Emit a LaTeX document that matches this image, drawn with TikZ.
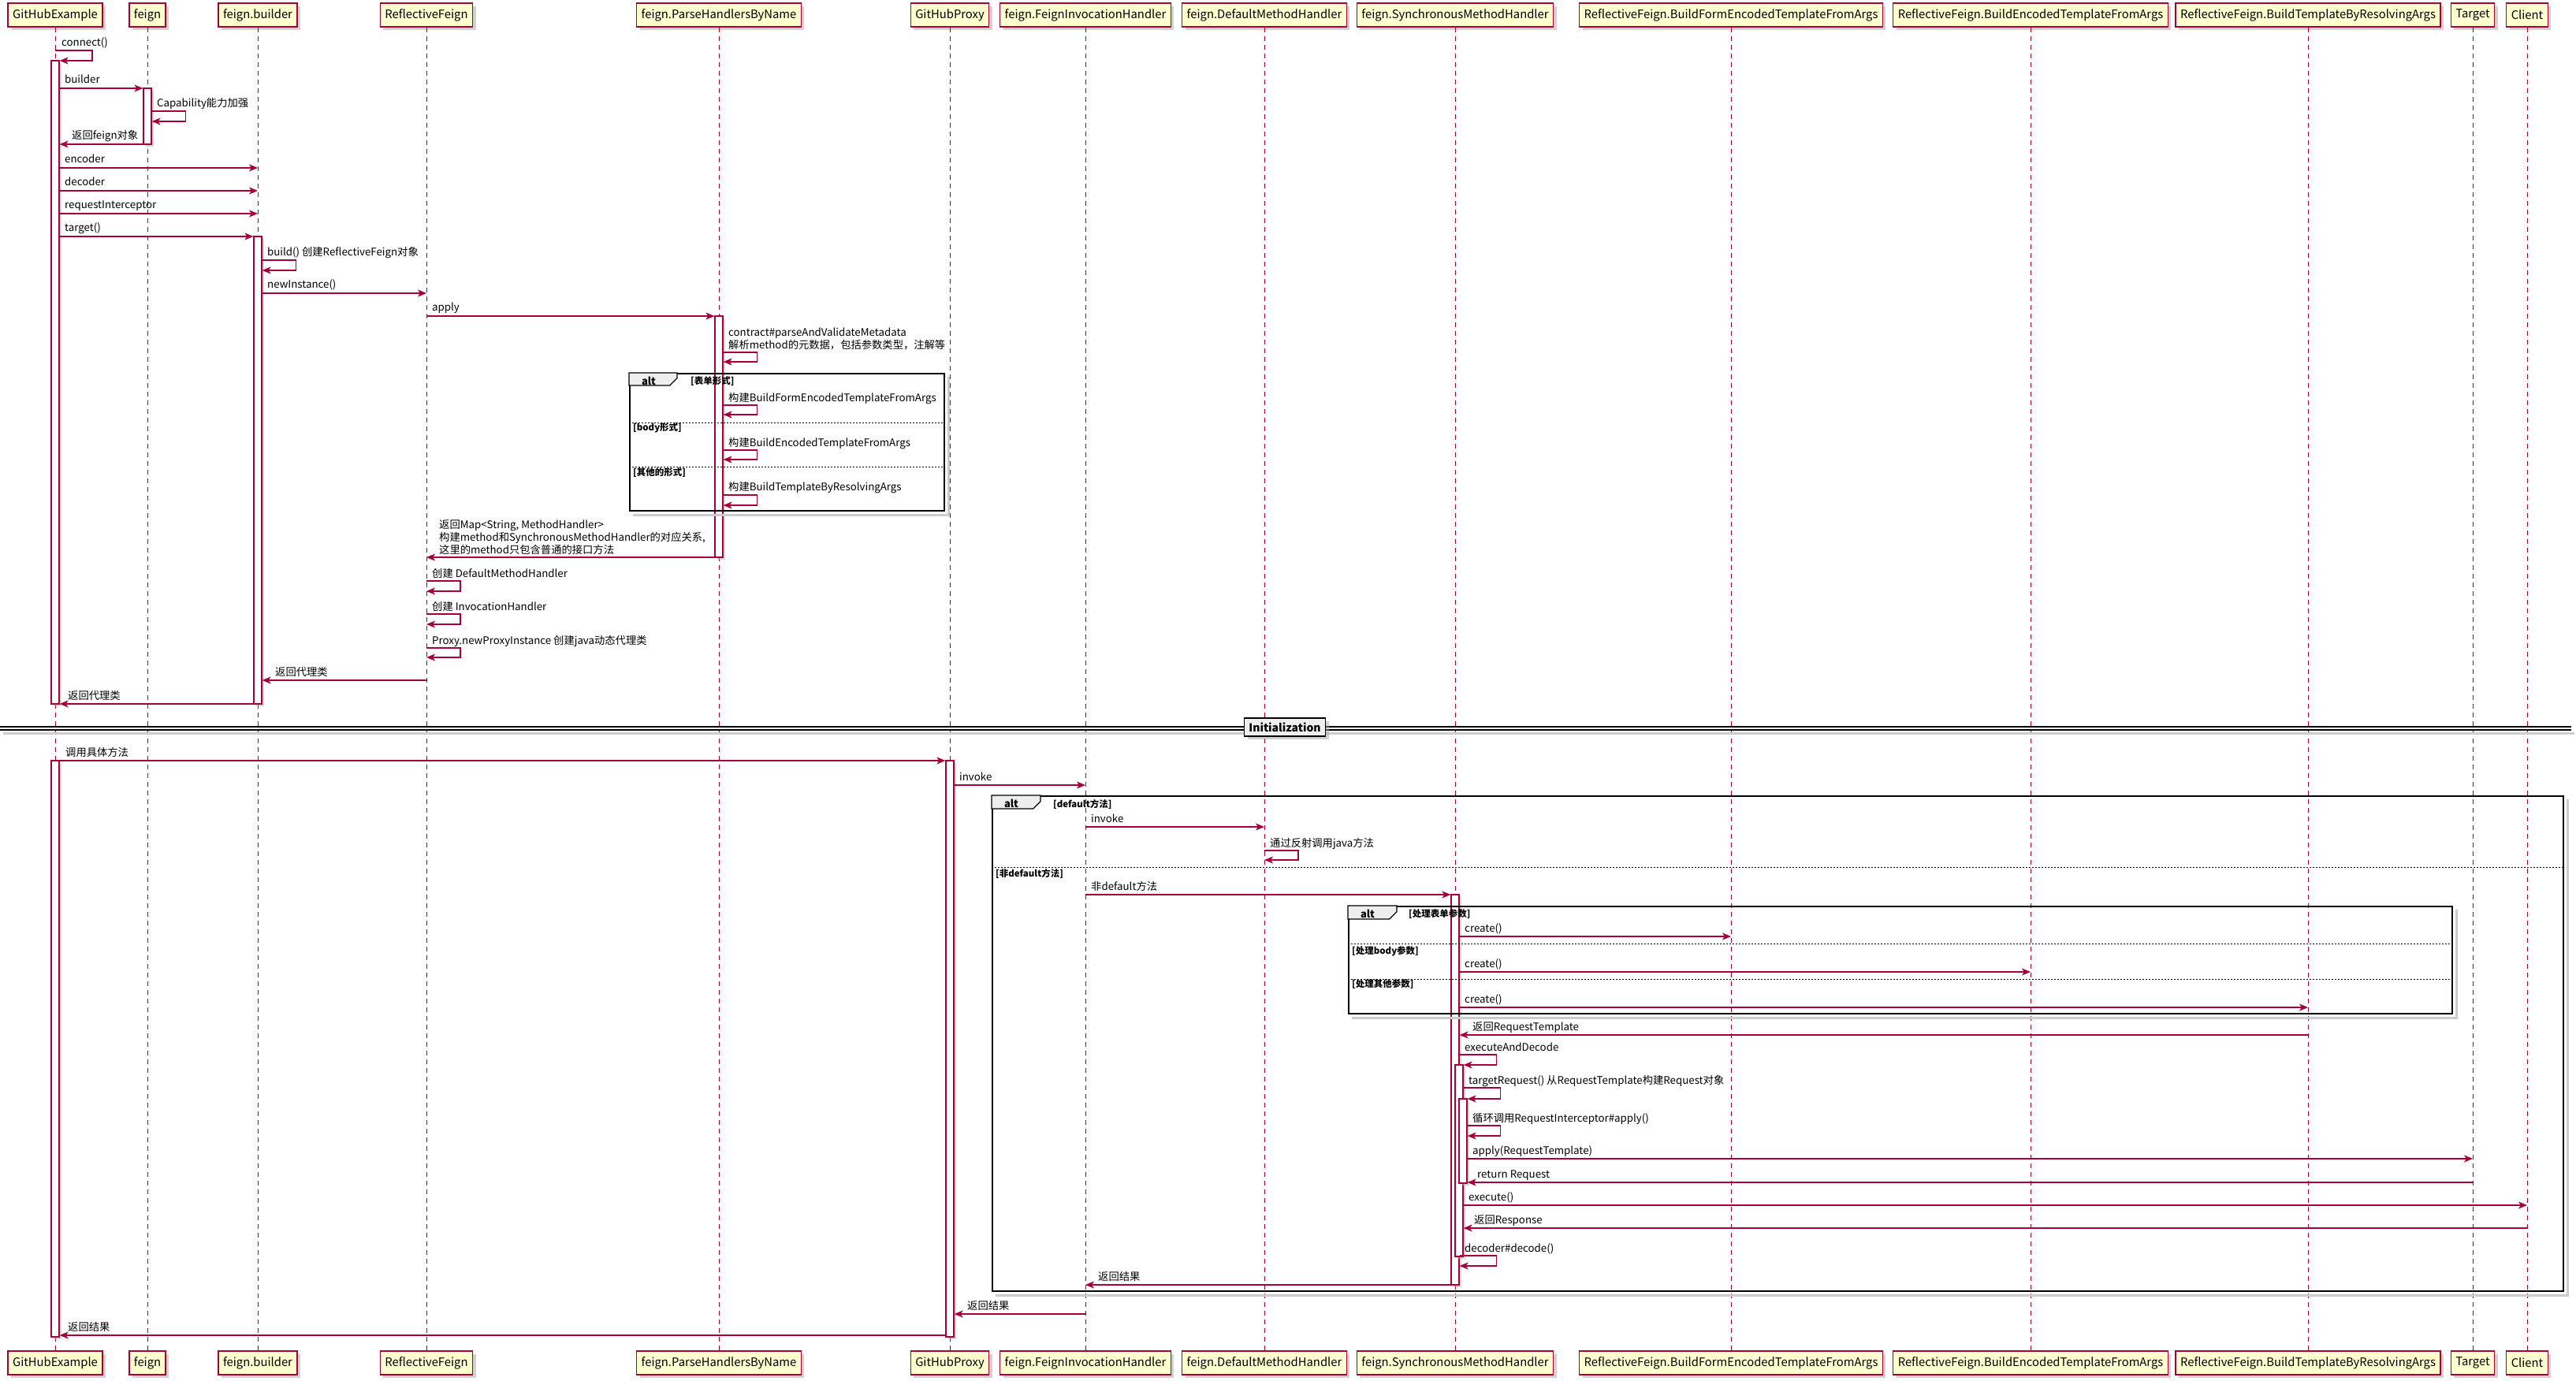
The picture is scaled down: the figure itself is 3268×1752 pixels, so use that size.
\documentclass[tikz,border=0pt]{standalone}
\usepackage{fontspec}
\setmainfont{Noto Sans CJK SC}
\usetikzlibrary{arrows.meta, shadows, positioning}
\definecolor{umlred}{HTML}{A80036}
\definecolor{umlfill}{HTML}{FEFECE}
\definecolor{umlgray}{HTML}{EEEEEE}

\begin{document}
\begin{tikzpicture}[
    x=1pt, y=-1pt,
    part/.style={rectangle, draw=umlred, fill=umlfill, line width=1.4pt, minimum height=30pt, inner xsep=6pt, font=\fontsize{14.8}{18}\selectfont, drop shadow={shadow xshift=4pt, shadow yshift=-4pt, fill=black!35, opacity=.5}},
    life/.style={draw=umlred, line width=1pt, dash pattern=on 6pt off 5pt},
    actbar/.style={rectangle, draw=umlred, fill=white, line width=1.2pt, minimum width=10pt, inner sep=0pt, drop shadow={shadow xshift=3pt, shadow yshift=-3pt, fill=black!30, opacity=.5}},
    msg/.style={-{Stealth[length=11pt, width=9pt, inset=3pt]}, draw=umlred, line width=1.4pt},
    lbl/.style={inner sep=0pt, font=\fontsize{13.3}{16}\selectfont, align=left},
    frame/.style={rectangle, draw=black, line width=2.2pt, inner sep=0pt},
    fshadow/.style={draw=black!20, line width=3pt},
    tab/.style={draw=black, fill=umlgray, line width=1.2pt},
    altlbl/.style={inner sep=0pt, font=\bfseries\fontsize{13}{15}\selectfont},
    guard/.style={inner sep=0pt, font=\bfseries\fontsize{11.5}{13}\selectfont},
    sep/.style={draw=black, line width=1pt, dash pattern=on 2pt off 2pt},
    divbox/.style={rectangle, draw=black, fill=umlgray, line width=1.5pt, minimum width=103pt, minimum height=23pt, font=\bfseries\fontsize{14}{16}\selectfont, drop shadow={shadow xshift=4pt, shadow yshift=-4pt, fill=black!35, opacity=.5}}
]
    \useasboundingbox (0,0) rectangle (3268,1752);

    \node[part] (gh) at (70,19) {GitHubExample};
    \node[part] (fg) at (187,19) {feign};
    \node[part] (fb) at (327,19) {feign.builder};
    \node[part] (rf) at (541,19) {ReflectiveFeign};
    \node[part] (ph) at (912,19) {feign.ParseHandlersByName};
    \node[part] (px) at (1205,19) {GitHubProxy};
    \node[part] (fih) at (1377,19) {feign.FeignInvocationHandler};
    \node[part] (dmh) at (1604,19) {feign.DefaultMethodHandler};
    \node[part] (smh) at (1846,19) {feign.SynchronousMethodHandler};
    \node[part] (bf) at (2196,19) {ReflectiveFeign.BuildFormEncodedTemplateFromArgs};
    \node[part] (be) at (2576,19) {ReflectiveFeign.BuildEncodedTemplateFromArgs};
    \node[part] (bt) at (2928,19) {ReflectiveFeign.BuildTemplateByResolvingArgs};
    \node[part] (tg) at (3137,19) {Target};
    \node[part] (cl) at (3206,19) {Client};

    \node[part] (gh2) at (70,1729) {GitHubExample};
    \node[part] (fg2) at (187,1729) {feign};
    \node[part] (fb2) at (327,1729) {feign.builder};
    \node[part] (rf2) at (541,1729) {ReflectiveFeign};
    \node[part] (ph2) at (912,1729) {feign.ParseHandlersByName};
    \node[part] (px2) at (1205,1729) {GitHubProxy};
    \node[part] (fih2) at (1377,1729) {feign.FeignInvocationHandler};
    \node[part] (dmh2) at (1604,1729) {feign.DefaultMethodHandler};
    \node[part] (smh2) at (1846,1729) {feign.SynchronousMethodHandler};
    \node[part] (bf2) at (2196,1729) {ReflectiveFeign.BuildFormEncodedTemplateFromArgs};
    \node[part] (be2) at (2576,1729) {ReflectiveFeign.BuildEncodedTemplateFromArgs};
    \node[part] (bt2) at (2928,1729) {ReflectiveFeign.BuildTemplateByResolvingArgs};
    \node[part] (tg2) at (3137,1729) {Target};
    \node[part] (cl2) at (3206,1729) {Client};

    \draw[life] (gh) -- (gh2);
    \draw[life] (fg) -- (fg2);
    \draw[life] (fb) -- (fb2);
    \draw[life] (rf) -- (rf2);
    \draw[life] (ph) -- (ph2);
    \draw[life] (px) -- (px2);
    \draw[life] (fih) -- (fih2);
    \draw[life] (dmh) -- (dmh2);
    \draw[life] (smh) -- (smh2);
    \draw[life] (bf) -- (bf2);
    \draw[life] (be) -- (be2);
    \draw[life] (bt) -- (bt2);
    \draw[life] (tg) -- (tg2);
    \draw[life] (cl) -- (cl2);

    \node[actbar, minimum height=816pt] (ghact1) at (70,485) {};
    \node[actbar, minimum height=71pt] (fgact) at (187,147.5) {};
    \node[actbar, minimum height=593pt] (fbact) at (327,596.5) {};
    \node[actbar, minimum height=306pt] (phact) at (912,554) {};
    \node[actbar, minimum height=731pt] (ghact2) at (70,1330.5) {};
    \node[actbar, minimum height=731pt] (pxact) at (1205,1330.5) {};
    \node[actbar, minimum height=495pt] (smhact1) at (1846,1382.5) {};
    \node[actbar, minimum height=243pt] (smhact2) at (1851,1472.5) {};
    \node[actbar, minimum height=107pt] (smhact3) at (1856,1447.5) {};

    \node[frame, minimum width=399pt, minimum height=174pt] (alt1) at (998.5,561) {};
    \draw[fshadow] ([shift={(4,5)}]alt1.north east) -- ([shift={(4,4)}]alt1.south east) -- ([shift={(5,4)}]alt1.south west);
    \draw[tab] (alt1.north west) -- ++(61,0) -- ++(0,7) -- ++(-9,9) -- ++(-52,0) -- cycle;
    \node[altlbl] (alt1t) at (823,483) {alt};
    \node[guard, anchor=base west] (g1) at (876,487) {[表单形式]};
    \draw[sep] (alt1.west |- 0,536) -- (alt1.east |- 0,536);
    \node[guard, anchor=base west] (g2) at (803,546) {[body形式]};
    \draw[sep] (alt1.west |- 0,592) -- (alt1.east |- 0,592);
    \node[guard, anchor=base west] (g3) at (803,603) {[其他的形式]};

    \node[frame, minimum width=1993pt, minimum height=628pt] (alt2) at (2255.5,1324) {};
    \draw[fshadow] ([shift={(4,5)}]alt2.north east) -- ([shift={(4,4)}]alt2.south east) -- ([shift={(5,4)}]alt2.south west);
    \draw[tab] (alt2.north west) -- ++(62,0) -- ++(0,8) -- ++(-9,9) -- ++(-53,0) -- cycle;
    \node[altlbl] (alt2t) at (1283,1019) {alt};
    \node[guard, anchor=base west] (g4) at (1336,1024) {[default方法]};
    \draw[sep] (alt2.west |- 0,1100) -- (alt2.east |- 0,1100);
    \node[guard, anchor=base west] (g5) at (1263,1112) {[非default方法]};

    \node[frame, minimum width=1400pt, minimum height=136pt] (alt3) at (2411,1218) {};
    \draw[fshadow] ([shift={(4,5)}]alt3.north east) -- ([shift={(4,4)}]alt3.south east) -- ([shift={(5,4)}]alt3.south west);
    \draw[tab] (alt3.north west) -- ++(62,0) -- ++(0,8) -- ++(-9,9) -- ++(-53,0) -- cycle;
    \node[altlbl] (alt3t) at (1735,1159) {alt};
    \node[guard, anchor=base west] (g6) at (1787,1163) {[处理表单参数]};
    \draw[sep] (alt3.west |- 0,1197) -- (alt3.east |- 0,1197);
    \node[guard, anchor=base west] (g7) at (1715,1210) {[处理body参数]};
    \draw[sep] (alt3.west |- 0,1242) -- (alt3.east |- 0,1242);
    \node[guard, anchor=base west] (g8) at (1715,1252) {[处理其他参数]};

    \draw[msg] (gh |- 0,64) -- ++(47,0) |- (ghact1.east |- 0,77);
    \draw[msg] (ghact1.east |- 0,112) -- (fgact.west |- 0,112);
    \draw[msg] (fgact.east |- 0,141) -- ++(43,0) |- (fgact.east |- 0,154);
    \draw[msg] (fgact.west |- 0,183) -- (ghact1.east |- 0,183);
    \draw[msg] (ghact1.east |- 0,213) -- (fb |- 0,213);
    \draw[msg] (ghact1.east |- 0,242) -- (fb |- 0,242);
    \draw[msg] (ghact1.east |- 0,271) -- (fb |- 0,271);
    \draw[msg] (ghact1.east |- 0,300) -- (fbact.west |- 0,300);
    \draw[msg] (fbact.east |- 0,330) -- ++(43,0) |- (fbact.east |- 0,343);
    \draw[msg] (fbact.east |- 0,372) -- (rf |- 0,372);
    \draw[msg] (rf |- 0,401) -- (phact.west |- 0,401);
    \draw[msg] (phact.east |- 0,447) -- ++(43,0) |- (phact.east |- 0,459);
    \draw[msg] (phact.east |- 0,514) -- ++(43,0) |- (phact.east |- 0,526);
    \draw[msg] (phact.east |- 0,571) -- ++(43,0) |- (phact.east |- 0,583);
    \draw[msg] (phact.east |- 0,628) -- ++(43,0) |- (phact.east |- 0,641);
    \draw[msg] (phact.west |- 0,707) -- (rf |- 0,707);
    \draw[msg] (rf |- 0,737) -- ++(43,0) |- (rf |- 0,750);
    \draw[msg] (rf |- 0,779) -- ++(43,0) |- (rf |- 0,792);
    \draw[msg] (rf |- 0,822) -- ++(43,0) |- (rf |- 0,834);
    \draw[msg] (rf |- 0,863) -- (fbact.east |- 0,863);
    \draw[msg] (fbact.west |- 0,893) -- (ghact1.east |- 0,893);

    \node[lbl, anchor=base west] (t1) at (78,59) {connect()};
    \node[lbl, anchor=base west] (t2) at (82,106) {builder};
    \node[lbl, anchor=base west] (t3) at (199,136) {Capability能力加强};
    \node[lbl, anchor=base west] (t4) at (91,177) {返回feign对象};
    \node[lbl, anchor=base west] (t5) at (82,207) {encoder};
    \node[lbl, anchor=base west] (t6) at (82,236) {decoder};
    \node[lbl, anchor=base west] (t7) at (82,265) {requestInterceptor};
    \node[lbl, anchor=base west] (t8) at (82,294) {target()};
    \node[lbl, anchor=base west] (t9) at (339,325) {build() 创建ReflectiveFeign对象};
    \node[lbl, anchor=base west] (t10) at (339,366) {newInstance()};
    \node[lbl, anchor=base west] (t11) at (548,395) {apply};
    \node[lbl, anchor=south west] (t12) at (924,444) {contract\#parseAndValidateMetadata\\解析method的元数据，包括参数类型，注解等};
    \node[lbl, anchor=base west] (t13) at (924,509) {构建BuildFormEncodedTemplateFromArgs};
    \node[lbl, anchor=base west] (t14) at (924,566) {构建BuildEncodedTemplateFromArgs};
    \node[lbl, anchor=base west] (t15) at (924,622) {构建BuildTemplateByResolvingArgs};
    \node[lbl, anchor=south west] (t16) at (557,704) {返回Map<String, MethodHandler>\\构建method和SynchronousMethodHandler的对应关系,\\这里的method只包含普通的接口方法};
    \node[lbl, anchor=base west] (t17) at (548,732) {创建 DefaultMethodHandler};
    \node[lbl, anchor=base west] (t18) at (548,774) {创建 InvocationHandler};
    \node[lbl, anchor=base west] (t19) at (548,817) {Proxy.newProxyInstance 创建java动态代理类};
    \node[lbl, anchor=base west] (t20) at (349,857) {返回代理类};
    \node[lbl, anchor=base west] (t21) at (86,887) {返回代理类};

    \draw[fshadow] (4,930) -- (3266,930);
    \draw[line width=1.5pt] (0,922) -- (3262,922);
    \draw[line width=1.5pt] (0,926) -- (3262,926);
    \node[divbox] (init) at (1630,922.5) {Initialization};

    \draw[msg] (ghact2.east |- 0,965) -- (pxact.west |- 0,965);
    \draw[msg] (pxact.east |- 0,996) -- (fih |- 0,996);
    \draw[msg] (fih |- 0,1049) -- (dmh |- 0,1049);
    \draw[msg] (dmh |- 0,1079) -- ++(43,0) |- (dmh |- 0,1091);
    \draw[msg] (fih |- 0,1135) -- (smhact1.west |- 0,1135);
    \draw[msg] (smhact1.east |- 0,1188) -- (bf |- 0,1188);
    \draw[msg] (smhact1.east |- 0,1233) -- (be |- 0,1233);
    \draw[msg] (smhact1.east |- 0,1278) -- (bt |- 0,1278);
    \draw[msg] (bt |- 0,1313) -- (smhact1.east |- 0,1313);
    \draw[msg] (smhact1.east |- 0,1338) -- ++(47,0) |- (smhact2.east |- 0,1351);
    \draw[msg] (smhact2.east |- 0,1380) -- ++(47,0) |- (smhact3.east |- 0,1394);
    \draw[msg] (smhact3.east |- 0,1428) -- ++(42,0) |- (smhact3.east |- 0,1441);
    \draw[msg] (smhact3.east |- 0,1470) -- (tg |- 0,1470);
    \draw[msg] (tg |- 0,1500) -- (smhact3.east |- 0,1500);
    \draw[msg] (smhact2.east |- 0,1529) -- (cl |- 0,1529);
    \draw[msg] (cl |- 0,1558) -- (smhact2.east |- 0,1558);
    \draw[msg] (smhact1.east |- 0,1593) -- ++(47,0) |- (smhact1.east |- 0,1606);
    \draw[msg] (smhact1.west |- 0,1630) -- (fih |- 0,1630);
    \draw[msg] (fih |- 0,1667) -- (pxact.east |- 0,1667);
    \draw[msg] (pxact.west |- 0,1694) -- (ghact2.east |- 0,1694);

    \node[lbl, anchor=base west] (t22) at (83,959) {调用具体方法};
    \node[lbl, anchor=base west] (t23) at (1217,990) {invoke};
    \node[lbl, anchor=base west] (t24) at (1384,1043) {invoke};
    \node[lbl, anchor=base west] (t25) at (1611,1074) {通过反射调用java方法};
    \node[lbl, anchor=base west] (t26) at (1384,1129) {非default方法};
    \node[lbl, anchor=base west] (t27) at (1858,1182) {create()};
    \node[lbl, anchor=base west] (t28) at (1858,1227) {create()};
    \node[lbl, anchor=base west] (t29) at (1858,1272) {create()};
    \node[lbl, anchor=base west] (t30) at (1868,1307) {返回RequestTemplate};
    \node[lbl, anchor=base west] (t31) at (1858,1333) {executeAndDecode};
    \node[lbl, anchor=base west] (t32) at (1863,1375) {targetRequest() 从RequestTemplate构建Request对象};
    \node[lbl, anchor=base west] (t33) at (1868,1423) {循环调用RequestInterceptor\#apply()};
    \node[lbl, anchor=base west] (t34) at (1868,1464) {apply(RequestTemplate)};
    \node[lbl, anchor=base west] (t35) at (1874,1494) {return Request};
    \node[lbl, anchor=base west] (t36) at (1863,1523) {execute()};
    \node[lbl, anchor=base west] (t37) at (1870,1552) {返回Response};
    \node[lbl, anchor=base west] (t38) at (1858,1588) {decoder\#decode()};
    \node[lbl, anchor=base west] (t39) at (1393,1624) {返回结果};
    \node[lbl, anchor=base west] (t40) at (1227,1661) {返回结果};
    \node[lbl, anchor=base west] (t41) at (86,1688) {返回结果};
\end{tikzpicture}
\end{document}
